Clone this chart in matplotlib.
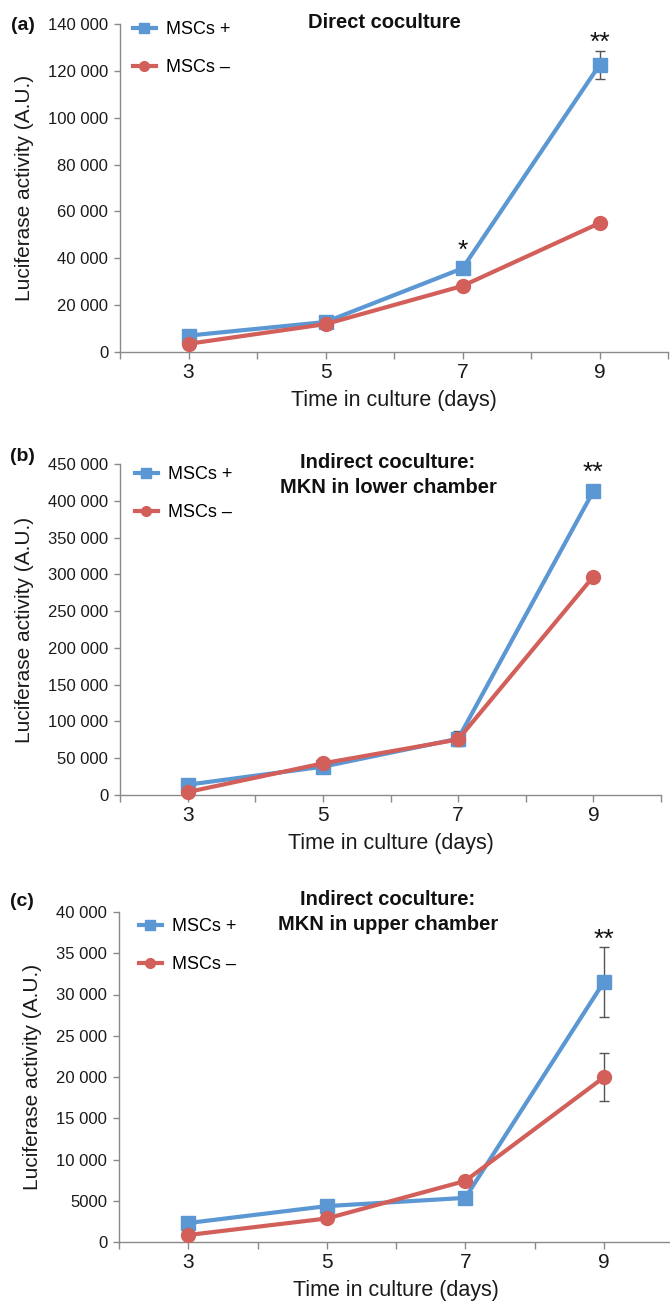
import matplotlib
matplotlib.use("Agg")
import matplotlib.pyplot as plt
from matplotlib.lines import Line2D
from matplotlib.ticker import FuncFormatter, MultipleLocator, FixedLocator
import numpy as np

plt.rcParams['font.family'] = ['Liberation Sans', 'DejaVu Sans']

# ---------------- data ----------------
days = [3, 5, 7, 9]
series_labels = ["MSCs +", "MSCs \u2013"]

# (a) Direct coculture
a_plus = [7000, 12800, 35700, 122500]
a_plus_err = [0, 0, 0, 6000]
a_minus = [3500, 11900, 28200, 55000]
a_minus_err = [0, 0, 0, 0]

# (b) Indirect coculture, MKN in lower chamber
b_plus = [14000, 38500, 76500, 413000]
b_plus_err = [0, 0, 10000, 0]
b_minus = [4000, 43000, 75500, 297000]
b_minus_err = [0, 0, 0, 0]

# (c) Indirect coculture, MKN in upper chamber
c_plus = [2300, 4350, 5350, 31500]
c_plus_err = [0, 0, 0, 4250]
c_minus = [850, 2850, 7400, 19950]
c_minus_err = [0, 0, 0, 2900]

titles = ["Direct coculture",
          "Indirect coculture:\nMKN in lower chamber",
          "Indirect coculture:\nMKN in upper chamber"]
panel_tags = ["(a)", "(b)", "(c)"]
ymax = [140000, 450000, 40000]
ystep = [20000, 50000, 5000]
# significance: (panel, series index, day, label)
stars = [(0, 0, 7, "*"), (0, 0, 9, "**"), (1, 0, 9, "**"), (2, 0, 9, "**")]

# ---------------- style / layout ----------------
BLUE = "#5b97d3"
RED = "#d35f5a"
AXC = "#8a8a8a"
W, H = 670, 1302
fig = plt.figure(figsize=(W / 100, H / 100), dpi=100)

# pixel boxes: left, right, top, bottom
boxes = [(120, 668, 24, 352), (120, 661, 464, 795), (119, 673, 912, 1242)]
legend_anchor = [(133, 21), (135, 466), (139, 918)]
title_pos = [(384, 23), (388, 475), (388, 912)]
tag_pos = [(11, 25), (10, 457), (10, 902)]
star_off = {(0, 7): 7.5, (0, 9): 1.0, (1, 9): 8.0, (2, 9): 0.3}


def fmt(v, pos):
    v = int(round(v))
    if v >= 10000:
        s = f"{v:,}".replace(",", " ")
    else:
        s = str(v)
    return s


data = [(a_plus, a_plus_err, a_minus, a_minus_err),
        (b_plus, b_plus_err, b_minus, b_minus_err),
        (c_plus, c_plus_err, c_minus, c_minus_err)]

for i, (p, pe, m, me) in enumerate(data):
    l, r, t, b = boxes[i]
    ax = fig.add_axes([l / W, 1 - b / H, (r - l) / W, (b - t) / H])
    vals = [p, m]
    errs = [pe, me]
    for k, (col, mk) in enumerate([(BLUE, "s"), (RED, "o")]):
        e = np.array(errs[k], dtype=float)
        v = np.array(vals[k], dtype=float)
        mask = e > 0
        if mask.any():
            ax.errorbar(np.array(days)[mask], v[mask], yerr=e[mask], fmt="none",
                        ecolor="#555555", elinewidth=1.0, capsize=3.5,
                        capthick=1.0, zorder=2)
        ax.plot(days, vals[k], color=col, lw=3.0, marker=mk,
                markersize=9.5 if mk == "s" else 10, zorder=3,
                clip_on=False)
    ax.set_xlim(2, 10)
    ax.set_ylim(0, ymax[i])
    ax.xaxis.set_major_locator(FixedLocator(days))
    ax.xaxis.set_minor_locator(MultipleLocator(1))
    ax.yaxis.set_major_locator(MultipleLocator(ystep[i]))
    ax.yaxis.set_major_formatter(FuncFormatter(fmt))
    for s in ["top", "right"]:
        ax.spines[s].set_visible(False)
    for s in ["left", "bottom"]:
        ax.spines[s].set_color(AXC)
        ax.spines[s].set_linewidth(1.0)
    ax.tick_params(axis="x", which="both", direction="out", length=5,
                   color=AXC, width=1.0, labelsize=15, pad=3,
                   labelcolor="#1a1a1a")
    ax.tick_params(axis="y", which="both", direction="out", length=4,
                   color=AXC, width=1.0, labelsize=12, pad=4.5,
                   labelcolor="#1a1a1a")
    ax.set_xlabel("Time in culture (days)", fontsize=15.5, color="#1a1a1a",
                  labelpad=6)
    ax.set_ylabel("Luciferase activity (A.U.)", fontsize=15, color="#1a1a1a",
                  labelpad=10)
    ax.set_facecolor("none")

    # legend
    handles = [Line2D([], [], color=BLUE, lw=3, marker="s", markersize=6.5),
               Line2D([], [], color=RED, lw=3, marker="o", markersize=7)]
    lx, ly = legend_anchor[i]
    ax.legend(handles, series_labels, loc="upper left",
              bbox_to_anchor=(lx / W, 1 - ly / H), bbox_transform=fig.transFigure,
              frameon=False, fontsize=13, handlelength=1.25,
              handletextpad=0.6, labelspacing=1.17, borderpad=0,
              borderaxespad=0)

    tx, ty = title_pos[i]
    fig.text(tx / W, 1 - ty / H, titles[i], ha="center", va="center",
             fontsize=14.5, fontweight="bold", linespacing=1.35,
             color="#111111")
    gx, gy = tag_pos[i]
    fig.text(gx / W, 1 - gy / H, panel_tags[i], ha="left", va="center",
             fontsize=14, fontweight="bold", color="#111111")

    for (pi, si, d, lab) in stars:
        if pi != i:
            continue
        idx = days.index(d)
        yv = vals[si][idx] + errs[si][idx]
        off = star_off[(pi, d)]
        ax.annotate(lab, xy=(d, yv), xytext=(0, off),
                    textcoords="offset points", ha="center", va="baseline",
                    fontsize=19, color="#111111")

fig.savefig("out.png", dpi=100)
